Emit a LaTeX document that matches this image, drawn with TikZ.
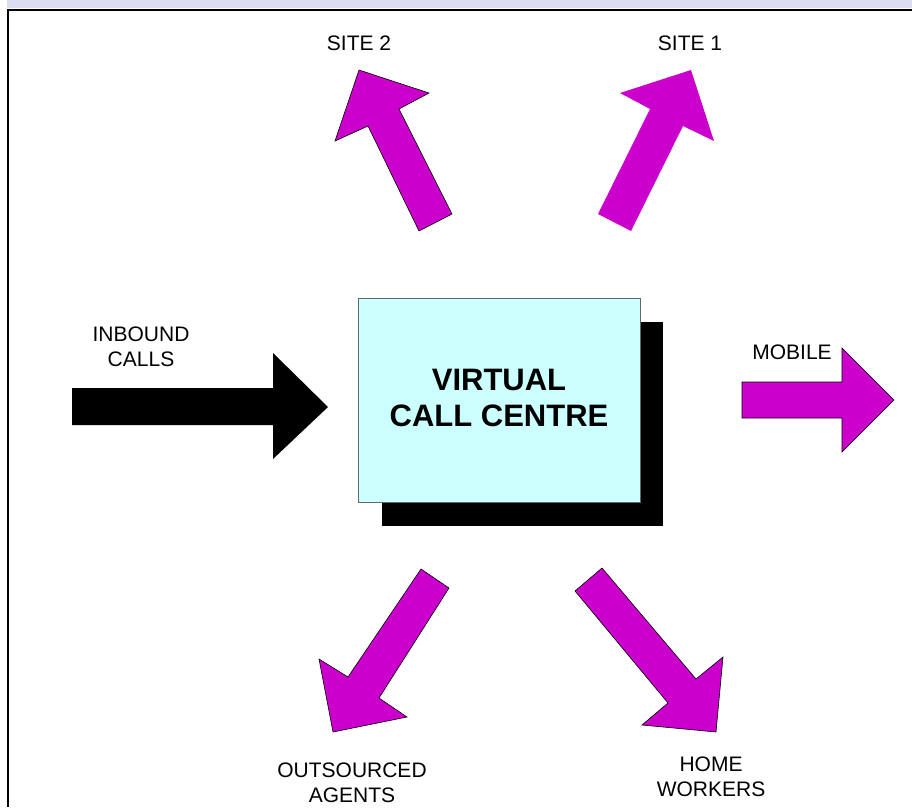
\documentclass[tikz,border=0pt]{standalone}
\usepackage{fontspec}
\setmainfont{Liberation Sans}
\definecolor{band}{RGB}{220,220,240}
\definecolor{magarrow}{RGB}{204,0,204}
\definecolor{boxcyan}{RGB}{204,255,255}
\begin{document}
\begin{tikzpicture}[x=1pt,y=-1pt,
  lbl/.style={anchor=north,inner sep=0pt,align=center,font=\fontsize{21}{25}\selectfont},
  blockarrow/.style={fill=magarrow,draw=black,line width=0.6pt,line join=miter},
  blockarrownl/.style={fill=magarrow},
  frameline/.style={line width=2pt,black}]
\useasboundingbox (0,0) rectangle (912,807);
% top band and frame
\fill[band] (7,0) rectangle (912,8);
\draw[frameline] (8.3,10) -- (912,10);
\draw[frameline] (8.3,9) -- (8.3,807);
% central box with shadow
\fill[black] (382,322) rectangle (663,526);
\node[draw=black!60,line width=0.6pt,fill=boxcyan,minimum width=282pt,minimum height=204pt,inner sep=0pt,anchor=north west] (vcc) at (358,298) {};
\node[anchor=north,inner sep=0pt,align=center,font=\fontsize{31}{36}\bfseries\selectfont] (vcctext) at (499,369) {VIRTUAL\\CALL CENTRE};
% inbound arrow
\fill[black] (72,388) -- (273,388) -- (273,353) -- (328,407) -- (273,459) -- (273,425) -- (72,425) -- cycle;
\node[lbl] (inbound) at (141,327) {INBOUND\\CALLS};
% mobile arrow
\draw[blockarrow] (742,382) -- (842,382) -- (842,348) -- (894,400) -- (842,452) -- (842,418) -- (742,418) -- cycle;
\node[lbl] (mobile) at (792,345) {MOBILE};
% site 2 arrow
\draw[blockarrow] (359,70) -- (429,93) -- (399,109) -- (452,214) -- (419,231) -- (368,126) -- (335,141) -- cycle;
\node[lbl] (site2) at (359,36) {SITE 2};
% site 1 arrow
\fill[blockarrownl] (691,70) -- (714,141) -- (683,126) -- (631,231) -- (598,214) -- (650,109) -- (620,93) -- cycle;
\node[lbl] (site1) at (690,36) {SITE 1};
% outsourced arrow
\draw[blockarrow] (449,588) -- (421,569) -- (348,677) -- (319,659) -- (333,732) -- (407,717) -- (379,698) -- cycle;
\node[lbl] (outsourced) at (352,763) {OUTSOURCED\\AGENTS};
% home workers arrow
\draw[blockarrow] (575,591) -- (602,568) -- (696,679) -- (723,657) -- (716,732) -- (642,725) -- (668,703) -- cycle;
\node[lbl] (home) at (711,757) {HOME\\WORKERS};
\end{tikzpicture}
\end{document}
